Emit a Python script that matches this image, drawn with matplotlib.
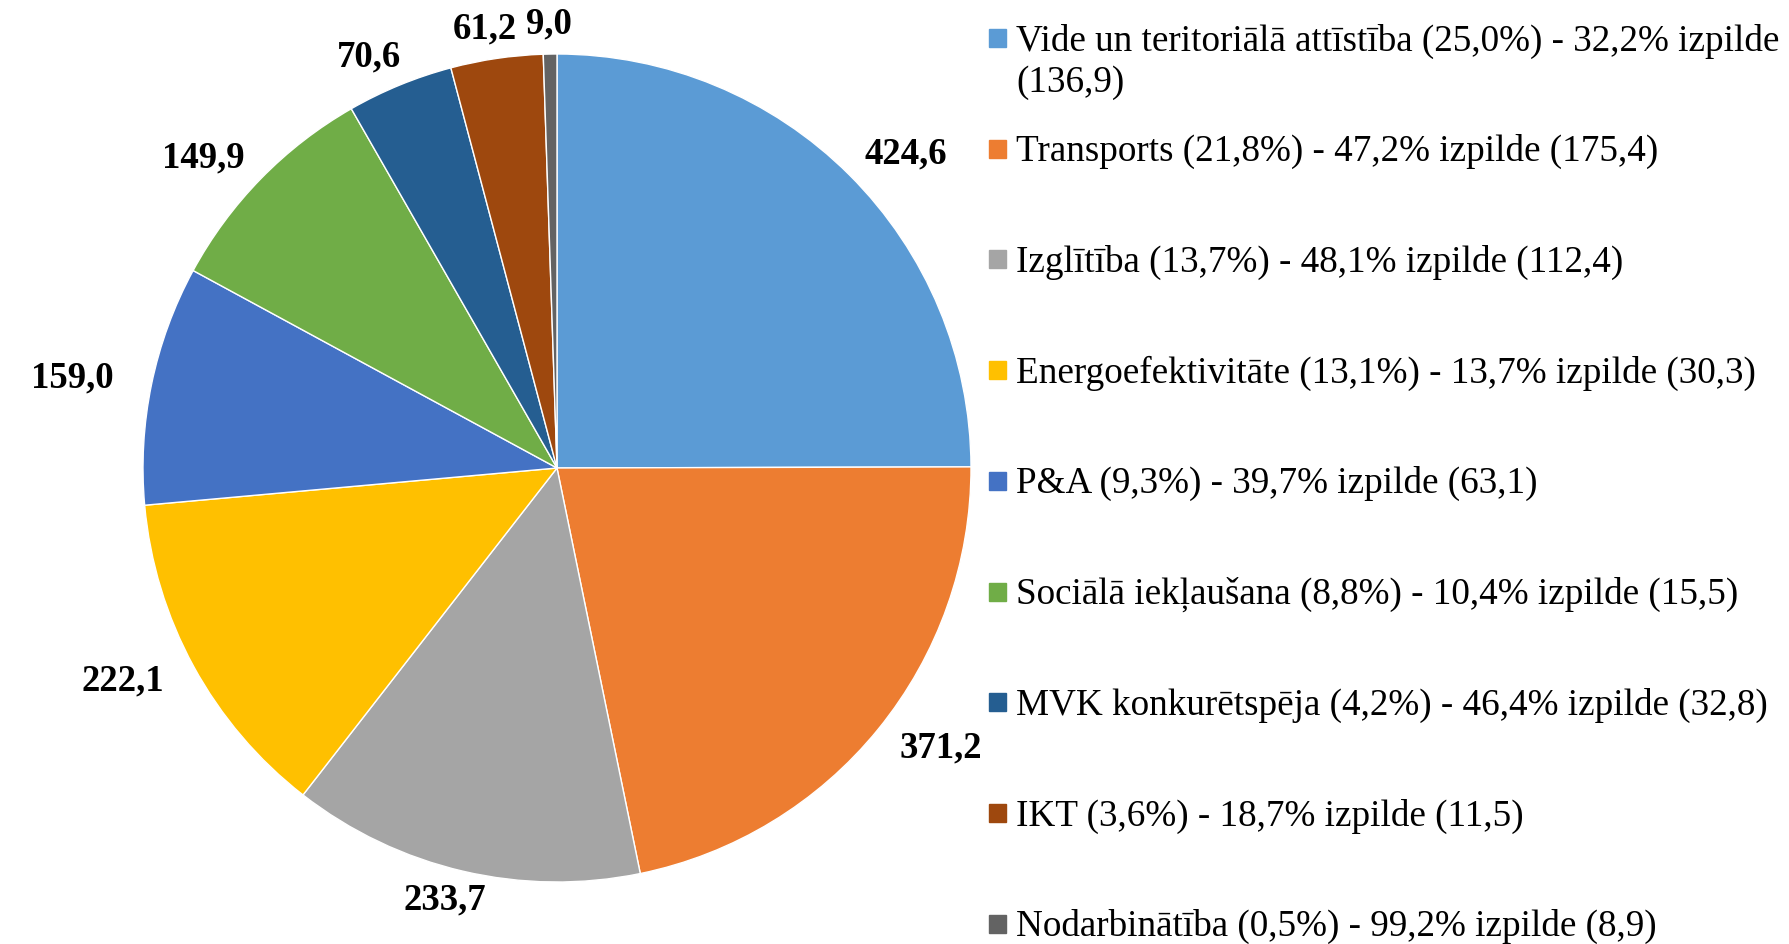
import numpy as np
import matplotlib
matplotlib.use("Agg")
import matplotlib.pyplot as plt
from matplotlib.patches import Rectangle

# dati
categories = ["Vide un teritoriālā attīstība", "Transports", "Izglītība",
              "Energoefektivitāte", "P&A", "Sociālā iekļaušana",
              "MVK konkurētspēja", "IKT", "Nodarbinātība"]
values = [424.6, 371.2, 233.7, 222.1, 159.0, 149.9, 70.6, 61.2, 9.0]
shares = [25.0, 21.8, 13.7, 13.1, 9.3, 8.8, 4.2, 3.6, 0.5]
izpilde_pct = [32.2, 47.2, 48.1, 13.7, 39.7, 10.4, 46.4, 18.7, 99.2]
izpilde_val = [136.9, 175.4, 112.4, 30.3, 63.1, 15.5, 32.8, 11.5, 8.9]
colors = ["#5B9BD5", "#ED7D31", "#A5A5A5", "#FFC000", "#4472C4",
          "#70AD47", "#255E91", "#9E480E", "#636363"]

def lv(x):
    return f"{x:.1f}".replace(".", ",")

plt.rcParams['font.family'] = ['Liberation Serif', 'DejaVu Serif']

W, H = 1790, 944
fig = plt.figure(figsize=(W / 100, H / 100), dpi=100)

cx, cy, r = 557, 468, 414
ax = fig.add_axes([(cx - r) / W, (H - cy - r) / H, 2 * r / W, 2 * r / H])
wedges, _ = ax.pie(values, colors=colors, startangle=90, counterclock=False,
                   radius=1, wedgeprops=dict(edgecolor="white", linewidth=1))
ax.set_xlim(-1, 1)
ax.set_ylim(-1, 1)
ax.set_aspect("equal")
ax.axis("off")

# vērtību etiķetes ārpus sektoriem
lw, lh, gap = 125, 24, 18
for w, v in zip(wedges, values):
    th = np.deg2rad((w.theta1 + w.theta2) / 2)
    c, s = np.cos(th), np.sin(th)
    ax.annotate(lv(v), xy=(c, s), xytext=(c * (gap + lw / 2), s * (gap + lh / 2)),
                textcoords="offset pixels", ha="center", va="center",
                fontsize=26.5, fontweight="bold")

# leģenda
first_y, step = 38, 110.7
mx, tx = 989, 1016
for i, cat in enumerate(categories):
    y = first_y + i * step
    fig.patches.append(Rectangle((mx / W, 1 - (y + 9) / H), 17 / W, 18 / H,
                                 transform=fig.transFigure, color=colors[i]))
    label = f"{cat} ({lv(shares[i])}%) - {lv(izpilde_pct[i])}% izpilde ({lv(izpilde_val[i])})"
    if i == 0:
        label = f"{cat} ({lv(shares[i])}%) - {lv(izpilde_pct[i])}% izpilde\n({lv(izpilde_val[i])})"
    fig.text(tx / W, 1 - (y - 14.5) / H, label, fontsize=26.7, ha="left", va="top",
             linespacing=1.24)

fig.savefig("out.png", dpi=100)
